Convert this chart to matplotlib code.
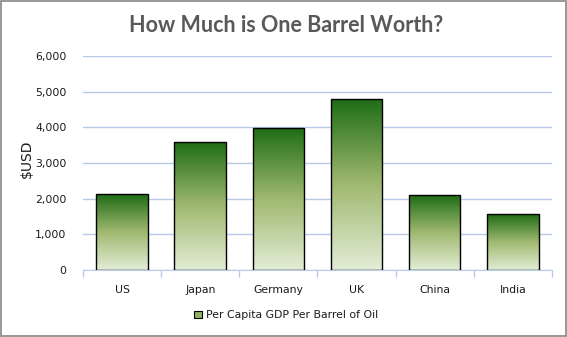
import numpy as np
import matplotlib.pyplot as plt
from matplotlib.colors import LinearSegmentedColormap
from matplotlib.patches import Rectangle, Patch
from matplotlib.ticker import FuncFormatter

countries = ["US", "Japan", "Germany", "UK", "China", "India"]
gdp_per_barrel = [2120, 3580, 3970, 4790, 2090, 1560]
series_name = "Per Capita GDP Per Barrel of Oil"
title = "How Much is One Barrel Worth?"

green = LinearSegmentedColormap.from_list(
    "bar_grad", [(0.0, "#e2edd6"), (0.5, "#a0b970"), (1.0, "#1f6d16")])

fig = plt.figure(figsize=(5.67, 3.37), dpi=100)
ax = fig.add_axes([0.1464, 0.1988, 0.827, 0.635])

# gridlines
ax.set_axisbelow(True)
ax.yaxis.grid(True, color="#b9cae8", linewidth=1.0)
for s in ["top", "right", "left"]:
    ax.spines[s].set_visible(False)
ax.spines["bottom"].set_color("#b9cae8")

width = 0.66
grad = np.linspace(0, 1, 256).reshape(-1, 1)
bars = ax.bar(range(len(countries)), gdp_per_barrel, width=width,
              facecolor="none", edgecolor="black", linewidth=1.0, zorder=3)
for b in bars:
    x0, y0 = b.get_x(), b.get_y()
    w, h = b.get_width(), b.get_height()
    im = ax.imshow(grad, cmap=green, origin="lower", aspect="auto",
                   extent=(x0, x0 + w, y0, y0 + h), zorder=2,
                   interpolation="bilinear")
    im.set_clip_path(b)

ax.set_xlim(-0.5, len(countries) - 0.5)
ax.set_ylim(0, 6000)
ax.set_yticks(range(0, 6001, 1000))
ax.yaxis.set_major_formatter(FuncFormatter(lambda v, p: f"{int(v):,}"))
ax.set_xticks(range(len(countries)))
ax.set_xticklabels(countries)
ax.set_xticks(np.arange(-0.5, len(countries), 1.0), minor=True)
ax.tick_params(axis="x", which="major", length=0, pad=11, labelsize=7.8,
               labelcolor="#1a1a1a")
ax.tick_params(axis="x", which="minor", length=5, color="#b9cae8", width=1)
ax.tick_params(axis="y", length=0, pad=12, labelsize=7.8, labelcolor="#1a1a1a")

ax.set_ylabel("$USD", fontsize=10, color="#1a1a1a")
ax.yaxis.set_label_coords(-0.105, 0.52)

fig.text(0.505, 0.925, title, ha="center", va="center", fontsize=15.5,
         fontweight="bold", color="#595959", family=["Lato", "DejaVu Sans"])

handle = Patch(facecolor="#8fb062", edgecolor="black", linewidth=0.8)
fig.legend([handle], [series_name], loc="center", bbox_to_anchor=(0.505, 0.065),
           frameon=False, fontsize=7.8, handlelength=0.7, handleheight=0.7,
           handletextpad=0.4, labelcolor="#1a1a1a")

fig.patches.append(Rectangle((0.001, 0.002), 0.997, 0.995, transform=fig.transFigure,
                             fill=False, edgecolor="#868686", linewidth=1.2))

fig.savefig("out.png", dpi=100)
